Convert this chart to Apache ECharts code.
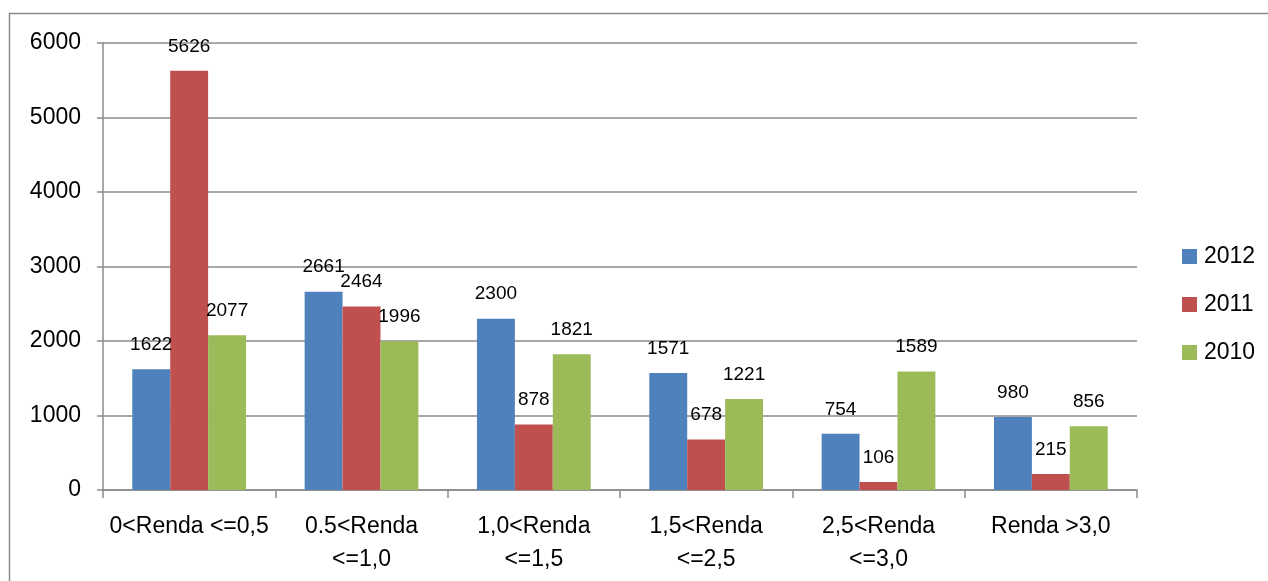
<!DOCTYPE html>
<html>
<head>
<meta charset="UTF-8">
<title>Renda</title>
<script src="https://cdn.jsdelivr.net/npm/echarts@6/dist/echarts.min.js"></script>
<style>
  * { margin: 0; padding: 0; }
  body { background: #fff; }
  #chart { width: 1268px; height: 581px; }
</style>
</head>
<body>
<div id="chart"></div>
<script>
var categories = ['0<Renda <=0,5', '0.5<Renda <=1,0', '1,0<Renda <=1,5', '1,5<Renda <=2,5', '2,5<Renda <=3,0', 'Renda >3,0'];
var years = ['2012', '2011', '2010'];
var v2012 = [1622, 2661, 2300, 1571, 754, 980];
var v2011 = [5626, 2464, 878, 678, 106, 215];
var v2010 = [2077, 1996, 1821, 1221, 1589, 856];
var yTicks = [0, 1000, 2000, 3000, 4000, 5000, 6000];

var colors = ['#4F81BD', '#C0504D', '#9BBB59'];
var font = 'Liberation Sans, Arial, sans-serif';

var myChart = echarts.init(document.getElementById('chart'));

function mkSeries(name, vals, i) {
    return {
        name: name,
        type: 'bar',
        data: vals,
        barGap: '0%',
        barCategoryGap: '34%',
        itemStyle: { color: colors[i] },
        label: {
            show: true,
            position: 'top',
            distance: 15,
            color: '#000',
            fontFamily: font,
            fontSize: 19
        }
    };
}

// long labels wrap at the space like in the original
function wrapLabel(s) {
    if (s.length > 14) {
        var k = s.lastIndexOf(' ');
        return s.slice(0, k) + '\n' + s.slice(k + 1);
    }
    return s;
}

var option = {
    animation: false,
    textStyle: { fontFamily: font },
    graphic: [{
        type: 'rect',
        shape: { x: 9.5, y: 13.5, width: 1300, height: 600 },
        style: { fill: 'none', stroke: '#8a8a8a', lineWidth: 1.5 },
        silent: true
    }],
    legend: {
        orient: 'vertical',
        left: 1177,
        top: 240,
        itemWidth: 15,
        itemHeight: 15,
        itemGap: 25,
        icon: 'rect',
        data: years,
        textStyle: { fontSize: 23, color: '#000', fontFamily: font, padding: [0, 0, 0, 2] }
    },
    grid: { left: 103, right: 131, top: 43, bottom: 91 },
    xAxis: {
        type: 'category',
        data: categories,
        axisLine: { lineStyle: { color: '#8a8a8a', width: 1.5 } },
        axisTick: { show: true, length: 8, lineStyle: { color: '#8a8a8a', width: 1.5 } },
        axisLabel: {
            color: '#000',
            fontSize: 23,
            fontFamily: font,
            margin: 20,
            lineHeight: 33,
            interval: 0,
            formatter: wrapLabel
        }
    },
    yAxis: {
        type: 'value',
        min: yTicks[0],
        max: yTicks[yTicks.length - 1],
        interval: 1000,
        axisLine: { show: true, lineStyle: { color: '#8a8a8a', width: 1.5 } },
        axisTick: { show: true, length: 6, lineStyle: { color: '#8a8a8a', width: 1.5 } },
        axisLabel: {
            color: '#000',
            fontSize: 23,
            fontFamily: font,
            margin: 22,
            formatter: function (v) { return String(v); }
        },
        splitLine: { lineStyle: { color: '#8a8a8a', width: 1.5 } }
    },
    series: [
        mkSeries(years[0], v2012, 0),
        mkSeries(years[1], v2011, 1),
        mkSeries(years[2], v2010, 2)
    ]
};
myChart.setOption(option);
</script>
</body>
</html>
